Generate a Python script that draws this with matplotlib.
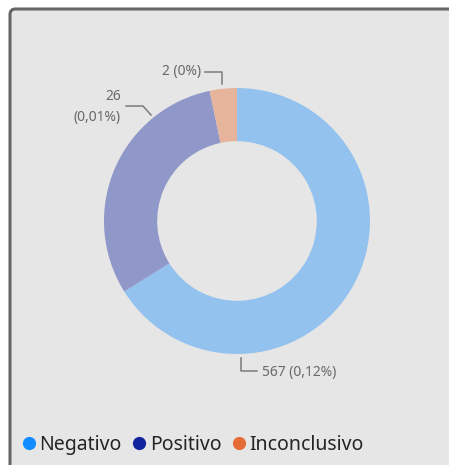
import matplotlib
matplotlib.use("Agg")
import matplotlib.pyplot as plt
from matplotlib.patches import FancyBboxPatch
from matplotlib.lines import Line2D

plt.rcParams['font.family'] = ['Noto Sans', 'DejaVu Sans']

# --- data ---
categories = ["Negativo", "Positivo", "Inconclusivo"]
counts = [567, 26, 2]
pct_labels = ["0,12%", "0,01%", "0%"]
shares = [66.1, 30.6, 3.3]          # slice sizes as drawn in the reference
slice_colors = ["#93C2EF", "#9097C9", "#E6B49B"]
legend_colors = ["#118DFF", "#12239E", "#E66C37"]

W, H = 449, 465
CX, CY, R = 237, 221, 133   # pie centre / radius in pixels

fig = plt.figure(figsize=(W / 100, H / 100), dpi=100)
fig.patch.set_facecolor("white")

# card background with border
card = FancyBboxPatch((10 / W, -0.1), 1.1, (H - 9) / H + 0.1,
                      boxstyle="round,pad=0,rounding_size=0.012",
                      transform=fig.transFigure, facecolor="#E6E6E6",
                      edgecolor="#666666", linewidth=2.2, zorder=-5)
fig.patches.append(card)

ax = fig.add_axes([0, 0, 1, 1])
ax.set_zorder(1)
ax.patch.set_visible(False)

ax.pie(shares, colors=slice_colors, startangle=90, counterclock=False,
       radius=1, wedgeprops=dict(width=0.4, edgecolor="none"))
ax.set_aspect("auto")
ax.set_xlim(-CX / R, (W - CX) / R)
ax.set_ylim(-(H - CY) / R, CY / R)
ax.axis("off")


def p(px, py):
    return (px - CX) / R, (CY - py) / R


lab_color = "#6B6967"
lab_kw = dict(fontsize=10, color=lab_color)
line_kw = dict(color="#7A7A7A", linewidth=1.1)

# Inconclusivo label
x0, y0 = p(205, 72); x1, y1 = p(222, 72); x2, y2 = p(222, 84)
ax.plot([x0, x1, x2], [y0, y1, y2], **line_kw)
ax.text(*p(201, 72), f"{counts[2]} ({pct_labels[2]})", ha="right", va="center", **lab_kw)

# Positivo label
x0, y0 = p(126, 106); x1, y1 = p(143, 106); x2, y2 = p(151, 115)
ax.plot([x0, x1, x2], [y0, y1, y2], **line_kw)
ax.text(*p(121, 97), f"{counts[1]}", ha="right", va="center", **lab_kw)
ax.text(*p(121, 117), f"({pct_labels[1]})", ha="right", va="center", **lab_kw)

# Negativo label
x0, y0 = p(241, 358); x1, y1 = p(241, 371); x2, y2 = p(257, 371)
ax.plot([x0, x1, x2], [y0, y1, y2], **line_kw)
ax.text(*p(262, 372), f"{counts[0]} ({pct_labels[0]})", ha="left", va="center", **lab_kw)

# legend
handles = [Line2D([], [], marker="o", linestyle="none", markersize=9.5,
                  markerfacecolor=c, markeredgecolor="none") for c in legend_colors]
fig.legend(handles, categories, loc="center left", bbox_to_anchor=(14 / W, 1 - 445 / H),
           ncol=3, frameon=False, fontsize=14, handlelength=0.5, handletextpad=0.3,
           columnspacing=0.65, borderpad=0, labelcolor="#252423")

fig.savefig("out.png", dpi=100, facecolor="white")
